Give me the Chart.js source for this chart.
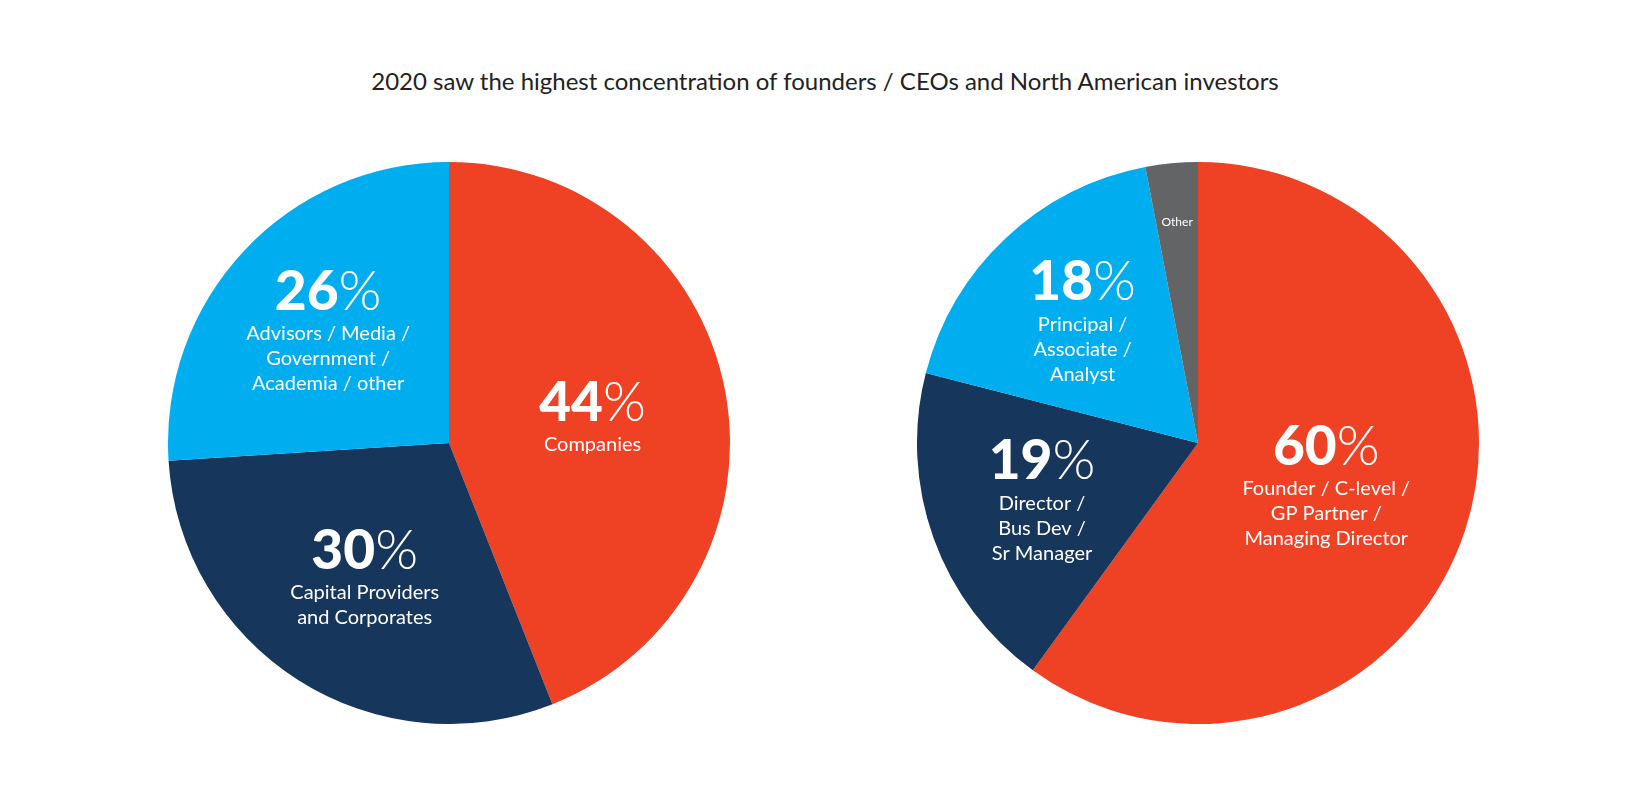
<!DOCTYPE html>
<html><head><meta charset="utf-8">
<script src="https://cdn.jsdelivr.net/npm/chart.js@4/dist/chart.umd.min.js"></script>
<style>
body{margin:0;width:1650px;height:809px;background:#fff;position:relative;overflow:hidden;font-family:Lato,"Open Sans",sans-serif}
#title{position:absolute;top:66px;left:0;width:1650px;text-align:center;font-size:24px;color:#222;}
.c{position:absolute;top:162px;width:562px;height:562px}
</style></head><body>
<div id="title">2020 saw the highest concentration of founders / CEOs and North American investors</div>
<div class="c" style="left:168px"><canvas id="a"></canvas></div>
<div class="c" style="left:917px"><canvas id="b"></canvas></div>
<script>
const leftCategories=["Companies","Capital Providers and Corporates","Advisors / Media / Government / Academia / other"];
const leftValues=[44,30,26];
const leftLabelLines=[["Companies"],["Capital Providers","and Corporates"],["Advisors / Media /","Government /","Academia / other"]];
const rightCategories=["Founder / C-level / GP Partner / Managing Director","Director / Bus Dev / Sr Manager","Principal / Associate / Analyst","Other"];
const rightValues=[60,19,18,3];
const rightLabelLines=[["Founder / C-level /","GP Partner /","Managing Director"],["Director /","Bus Dev /","Sr Manager"],["Principal /","Associate /","Analyst"],["Other"]];

const labelPlugin={id:'lbl',afterDatasetsDraw(chart,args,opts){
  const ctx=chart.ctx;const meta=chart.getDatasetMeta(0);
  meta.data.forEach((arc,i)=>{
    const p=arc.getProps(['x','y','startAngle','endAngle','outerRadius'],true);
    const mid=(p.startAngle+p.endAngle)/2;const r=p.outerRadius*opts.frac[i];
    const cx=p.x+Math.cos(mid)*r, cy=p.y+Math.sin(mid)*r;
    const lines=opts.lines[i];const v=chart.data.datasets[0].data[i];
    ctx.save();ctx.fillStyle='#fff';ctx.textBaseline='middle';
    if(v<5){ctx.font='12px Lato';ctx.textAlign='center';ctx.fillText(lines[0],cx,cy);ctx.restore();return;}
    const lh=25, bigH=54, total=bigH+lines.length*lh;
    let y=cy-total/2+bigH/2;
    ctx.font='900 55px Lato';const n=String(v);const wn=ctx.measureText(n).width;
    ctx.font='300 55px Lato';const wp=ctx.measureText('%').width;
    let x=cx-(wn+wp)/2;ctx.textAlign='left';
    ctx.font='900 55px Lato';ctx.fillText(n,x,y);
    ctx.font='300 55px Lato';ctx.fillText('%',x+wn,y);
    ctx.font='20px Lato';ctx.textAlign='center';
    lines.forEach((t,k)=>ctx.fillText(t,cx,cy-total/2+bigH+lh*k+lh/2+2));
    ctx.restore();
  });
}};
function mk(id,labels,data,colors,lines,frac){
  new Chart(document.getElementById(id),{type:'pie',
    data:{labels,datasets:[{data,backgroundColor:colors,borderWidth:0}]},
    options:{responsive:true,maintainAspectRatio:false,animation:false,layout:{padding:0},
      plugins:{legend:{display:false},tooltip:{enabled:false},lbl:{lines,frac}}},
    plugins:[labelPlugin]});
}
mk('a',leftCategories,leftValues,['#EF4123','#16365C','#00AEEF'],leftLabelLines,[0.52,0.56,0.59]);
mk('b',rightCategories,rightValues,['#EF4123','#16365C','#00AEEF','#636466'],rightLabelLines,[0.48,0.59,0.6,0.79]);
</script></body></html>
